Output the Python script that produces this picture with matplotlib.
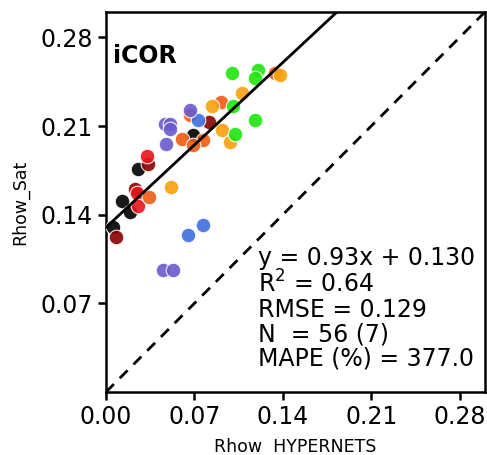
import matplotlib
matplotlib.use("Agg")
import matplotlib.pyplot as plt
import numpy as np

# Data (x = Rhow HYPERNETS, y = Rhow_Sat)
black_x = [0.0253, 0.0127, 0.019, 0.0055, 0.0689]
black_y = [0.176, 0.151, 0.142, 0.130, 0.203]
darkred_x = [0.0332, 0.023, 0.0079, 0.0815]
darkred_y = [0.180, 0.160, 0.122, 0.213]
red_x = [0.0325, 0.0245, 0.0253]
red_y = [0.186, 0.157, 0.147]
orangered_x = [0.034, 0.060, 0.0768, 0.0689, 0.091, 0.134, 0.0665]
orangered_y = [0.154, 0.200, 0.199, 0.195, 0.229, 0.252, 0.2185]
orange_x = [0.0515, 0.0839, 0.0918, 0.098, 0.108, 0.138]
orange_y = [0.162, 0.226, 0.207, 0.197, 0.236, 0.250]
green_x = [0.0997, 0.120, 0.118, 0.1005, 0.118, 0.102]
green_y = [0.252, 0.254, 0.248, 0.226, 0.215, 0.204]
blue_x = [0.0728, 0.065, 0.0768]
blue_y = [0.215, 0.124, 0.132]
purple_x = [0.0467, 0.0507, 0.0507, 0.0475, 0.045, 0.053, 0.0665]
purple_y = [0.212, 0.212, 0.208, 0.196, 0.096, 0.096, 0.2225]

groups = [
    (black_x, black_y, "#000000"),
    (darkred_x, darkred_y, "#8b0000"),
    (red_x, red_y, "#e8151b"),
    (orangered_x, orangered_y, "#f05a0f"),
    (orange_x, orange_y, "#f8a10c"),
    (green_x, green_y, "#1ee60e"),
    (blue_x, blue_y, "#3e6fe0"),
    (purple_x, purple_y, "#6a5acd"),
]

slope = 0.93
intercept = 0.130
xticks = [0.00, 0.07, 0.14, 0.21, 0.28]
xtick_labels = ["0.00", "0.07", "0.14", "0.21", "0.28"]
yticks = [0.07, 0.14, 0.21, 0.28]
ytick_labels = ["0.07", "0.14", "0.21", "0.28"]
stats_text = ("y = 0.93x + 0.130\nR$^2$ = 0.64\nRMSE = 0.129\n"
              "N  = 56 (7)\nMAPE (%) = 377.0")

fig = plt.figure(figsize=(4.87, 4.55), dpi=100)
ax = fig.add_axes([0.2177, 0.1385, 0.778, 0.835])

for gx, gy, c in groups:
    ax.scatter(gx, gy, s=110, color=c, edgecolors="white", linewidths=0.8,
               alpha=0.9, zorder=3)

xs = np.array([0.0, 0.30])
ax.plot(xs, slope * xs + intercept, color="black", lw=2, zorder=4)
ax.plot(xs, xs, color="black", lw=2, ls=(0, (4, 3)), zorder=2)

ax.set_xlim(0, 0.30)
ax.set_ylim(0, 0.30)
ax.set_xticks(xticks)
ax.set_xticklabels(xtick_labels)
ax.set_yticks(yticks)
ax.set_yticklabels(ytick_labels)
ax.tick_params(labelsize=17, width=1.8, length=6, direction="out")
for sp in ax.spines.values():
    sp.set_linewidth(1.8)

ax.set_xlabel("Rhow  HYPERNETS", fontsize=12.5, labelpad=6)
ax.set_ylabel("Rhow_Sat", fontsize=12.5, labelpad=8)

ax.text(0.018, 0.915, "iCOR", transform=ax.transAxes, fontsize=17,
        fontweight="bold", va="top", ha="left")
ax.text(0.40, 0.385, stats_text, transform=ax.transAxes, fontsize=17,
        va="top", ha="left", linespacing=1.02)

fig.savefig("out.png", dpi=100)
